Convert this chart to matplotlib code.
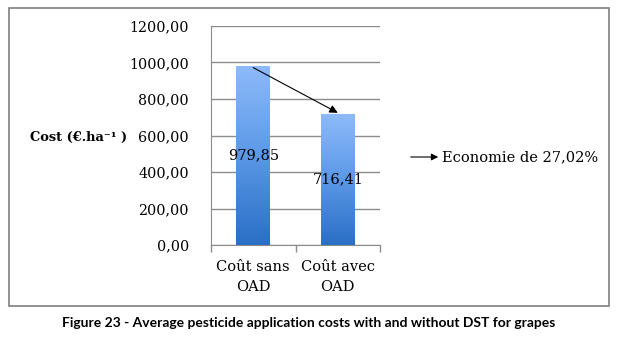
import numpy as np
import matplotlib
matplotlib.use('Agg')
import matplotlib.pyplot as plt
from matplotlib.colors import LinearSegmentedColormap
from matplotlib.patches import Rectangle, FancyArrowPatch

categories = ['Coût sans\nOAD', 'Coût avec\nOAD']
costs = [979.85, 716.41]
value_labels = ['979,85', '716,41']
yticks = [0, 200, 400, 600, 800, 1000, 1200]
saving_text = 'Economie de 27,02%'
caption = 'Figure 23 - Average pesticide application costs with and without DST for grapes'

serif = 'DejaVu Serif'
fig = plt.figure(figsize=(6.2, 3.41), dpi=100)
fig.patches.append(Rectangle((9 / 620, 1 - 306 / 341), 600 / 620, 298 / 341,
                             transform=fig.transFigure, fill=False,
                             edgecolor='#7f7f7f', lw=1.2))
ax = fig.add_axes([211 / 620, 1 - 245 / 341, 169 / 620, 219 / 341])

x = np.arange(len(costs))
bars = ax.bar(x, costs, width=0.4, color='none', zorder=3)
# bars in the original have a vertical gradient, dark at the bottom
cmap = LinearSegmentedColormap.from_list('blue', ['#2a6fc6', '#5b98e6', '#8dbafa'])
grad = np.linspace(0, 1, 256).reshape(-1, 1)
for b in bars:
    x0, w, h = b.get_x(), b.get_width(), b.get_height()
    im = ax.imshow(grad, cmap=cmap, extent=[x0, x0 + w, 0, h], origin='lower',
                   aspect='auto', zorder=3)
    im.set_clip_path(b)

for i, (v, lab) in enumerate(zip(costs, value_labels)):
    ax.text(i, v / 2, lab, ha='center', va='center', fontsize=10.5,
            family=serif, zorder=5)

ax.annotate('', xy=(1, costs[1] + 8), xytext=(0, costs[0] - 8),
            arrowprops=dict(arrowstyle='-|>', color='black', lw=0.8,
                            mutation_scale=12, shrinkA=0, shrinkB=0),
            zorder=6)

ax.set_xlim(-0.5, 1.5)
ax.set_ylim(0, 1200)
ax.set_yticks(yticks)
ax.set_yticklabels(['%d,00' % t for t in yticks], family=serif, fontsize=10.3)
ax.yaxis.grid(True, color='#8c8c8c', lw=1)
ax.set_axisbelow(True)
ax.tick_params(axis='y', length=0, pad=16)
ax.set_xticks([-0.5, 0.5, 1.5])
ax.set_xticklabels([])
ax.tick_params(axis='x', direction='out', length=5, color='#8c8c8c', width=1)
ax.set_xticks(x, minor=True)
ax.set_xticklabels(categories, minor=True, family=serif, fontsize=10.5,
                   linespacing=1.5)
ax.tick_params(axis='x', which='minor', length=0, pad=11)
for s in ['top', 'right']:
    ax.spines[s].set_visible(False)
for s in ['left', 'bottom']:
    ax.spines[s].set_color('#8c8c8c')
ax.spines['left'].set_zorder(4)

fig.text(30 / 620, 1 - 137 / 341, 'Cost (€.ha⁻¹ )', family=serif,
         fontweight='bold', fontsize=9.4, ha='left', va='center')

fig.add_artist(FancyArrowPatch(
    (408 / 620, 1 - 157 / 341), (441 / 620, 1 - 157 / 341),
    transform=fig.transFigure, arrowstyle='-|>', mutation_scale=10,
    color='black', lw=0.8))
fig.text(442 / 620, 1 - 157 / 341, saving_text, family=serif, fontsize=10.5,
         ha='left', va='center')

fig.text(309 / 620, 1 - 323 / 341, caption, family='Lato', fontweight='bold',
         fontsize=10, ha='center', va='center')

fig.savefig('out.png', dpi=100)
